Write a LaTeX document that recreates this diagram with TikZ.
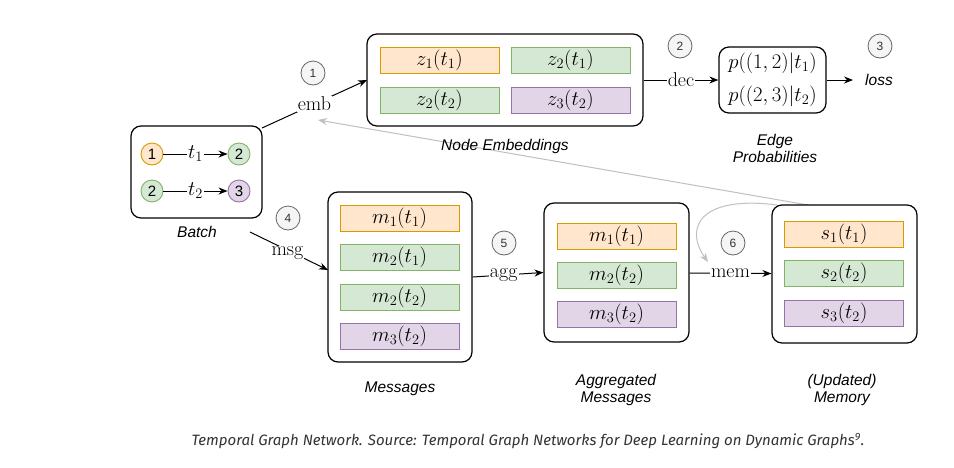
\documentclass[tikz,border=0pt]{standalone}
\usepackage{fontspec}
\setsansfont{Liberation Sans}
\newfontfamily\capfont{Fira Sans}
\usetikzlibrary{arrows.meta,calc}
\definecolor{ofill}{HTML}{FFE6CC}
\definecolor{ostroke}{HTML}{D79B00}
\definecolor{gfill}{HTML}{D5E8D4}
\definecolor{gstroke}{HTML}{82B366}
\definecolor{pfill}{HTML}{E1D5E7}
\definecolor{pstroke}{HTML}{9673A6}
\definecolor{nfill}{HTML}{F5F5F5}
\definecolor{nstroke}{HTML}{666666}
\definecolor{fb}{HTML}{C0C0C0}
\definecolor{captxt}{HTML}{333333}
\newcommand{\mfs}{\fontsize{20}{24}\selectfont}
\begin{document}
\begin{tikzpicture}[x=1pt,y=-1pt,
  box/.style={draw=black, line width=1.2pt, rounded corners=10pt, fill=white, inner sep=0pt},
  cell/.style={draw, line width=0.9pt, minimum width=119pt, minimum height=26pt, inner sep=0pt, font=\mfs},
  ocell/.style={cell, fill=ofill, draw=ostroke},
  gcell/.style={cell, fill=gfill, draw=gstroke},
  pcell/.style={cell, fill=pfill, draw=pstroke},
  vert/.style={circle, line width=0.9pt, minimum size=22pt, inner sep=0pt, font=\sffamily\fontsize{15}{17}\selectfont},
  overt/.style={vert, fill=ofill, draw=ostroke},
  gvert/.style={vert, fill=gfill, draw=gstroke},
  pvert/.style={vert, fill=pfill, draw=pstroke},
  num/.style={circle, draw=nstroke, fill=nfill, line width=0.8pt, minimum size=24pt, inner sep=0pt, font=\sffamily\fontsize{12}{14}\selectfont, text=captxt},
  capt/.style={font=\sffamily\itshape\fontsize{15.5}{17}\selectfont, align=center, inner sep=0pt},
  lab/.style={fill=white, inner sep=1pt, font=\mfs},
  arr/.style={line width=1pt, -{Stealth[length=9pt,width=7pt]}},
  fbarr/.style={draw=fb, line width=1pt, -{Stealth[length=9pt,width=7pt,fill=fb]}}
]
\useasboundingbox (0,0) rectangle (954,467);
\fill[white] (0,0) rectangle (954,467);

% feedback arrows (behind)
\coordinate (fbs1) at (808,205);
\coordinate (fbe1) at (318,120);
\coordinate (fbs2) at (777,205);
\coordinate (fbe2) at (708,262);
\draw[fbarr] (fbs1) -- (fbe1);
\draw[fbarr] (fbs2) .. controls (700,195) and (684,228) .. (fbe2);

% Batch
\node[box, minimum width=131pt, minimum height=92pt] (batch) at (196.5,172) {};
\node[overt] (b1) at (152,154) {1};
\node[gvert] (b2) at (239,154) {2};
\node[gvert] (b3) at (152,191) {2};
\node[pvert] (b4) at (239,191) {3};
\draw[arr] (b1) -- node[lab]{$t_1$} (b2);
\draw[arr] (b3) -- node[lab]{$t_2$} (b4);
\node[capt] (batchcap) at (197,232) {Batch};

% Node embeddings
\node[box, minimum width=276pt, minimum height=92pt] (emb) at (505,80) {};
\node[ocell] (z11) at (439.5,60) {$z_1(t_1)$};
\node[gcell] (z21) at (570.5,60) {$z_2(t_1)$};
\node[gcell] (z22) at (439.5,100) {$z_2(t_2)$};
\node[pcell] (z32) at (570.5,100) {$z_3(t_2)$};
\node[capt] (embcap) at (505,146) {Node Embeddings};

% Edge probabilities
\node[box, minimum width=107pt, minimum height=66pt] (ep) at (772.5,80) {};
\node[font=\mfs, inner sep=0pt] (p1) at (772.5,63) {$p((1,2)|t_1)$};
\node[font=\mfs, inner sep=0pt] (p2) at (772.5,96) {$p((2,3)|t_2)$};
\node[capt] (epcap) at (775,148) {Edge\\Probabilities};
\node[capt] (loss) at (879,80) {loss};

% Messages
\node[box, minimum width=144pt, minimum height=170pt] (msgs) at (400,277) {};
\node[ocell] (m11) at (399.5,218) {$m_1(t_1)$};
\node[gcell] (m21) at (399.5,257) {$m_2(t_1)$};
\node[gcell] (m22) at (399.5,297) {$m_2(t_2)$};
\node[pcell] (m32) at (399.5,336.5) {$m_3(t_2)$};
\node[capt] (msgcap) at (400,389) {Messages};

% Aggregated messages
\node[box, minimum width=145pt, minimum height=139pt] (agg) at (616.5,272.5) {};
\node[ocell] (a11) at (616.5,236) {$m_1(t_1)$};
\node[gcell] (a22) at (616.5,275) {$m_2(t_2)$};
\node[pcell] (a32) at (616.5,314) {$m_3(t_2)$};
\node[capt] (aggcap) at (616,390) {Aggregated\\Messages};

% Memory
\node[box, minimum width=145pt, minimum height=138pt] (mem) at (844.5,274) {};
\node[ocell] (s11) at (844,234) {$s_1(t_1)$};
\node[gcell] (s22) at (844,273.5) {$s_2(t_2)$};
\node[pcell] (s32) at (844,313.5) {$s_3(t_2)$};
\node[capt] (memcap) at (842,390) {(Updated)\\Memory};

% step numbers
\node[num] (n1) at (313,73) {1};
\node[num] (n2) at (680,46) {2};
\node[num] (n3) at (880,46) {3};
\node[num] (n4) at (288,218) {4};
\node[num] (n5) at (504,243) {5};
\node[num] (n6) at (733,243) {6};

% connectors
\coordinate (embs) at (262,128);
\coordinate (embt) at (367,80);
\draw[arr] (embs) -- node[lab]{emb} (embt);
\coordinate (msgs0) at (250,232);
\coordinate (msgt) at (328,270);
\draw[arr] (msgs0) -- node[lab, pos=0.48, yshift=-3pt]{msg} (msgt);
\draw[arr] (emb.east) -- node[lab, pos=0.5]{dec} (ep.west);
\draw[arr, shorten >=12pt] (ep.east) -- (loss.west);
\draw[arr] (msgs.east) -- node[lab, pos=0.44]{agg} (agg.west);
\draw[arr] ($(agg.east)+(0,0.5)$) -- node[lab]{mem} ($(mem.west)+(0,-0.5)$);

% caption
\node[font=\capfont\itshape\fontsize{15}{17}\selectfont, text=captxt, inner sep=0pt] (caption) at (528,441)
  {Temporal Graph Network. Source: Temporal Graph Networks for Deep Learning on Dynamic Graphs\textsuperscript{9}.};
\end{tikzpicture}
\end{document}
